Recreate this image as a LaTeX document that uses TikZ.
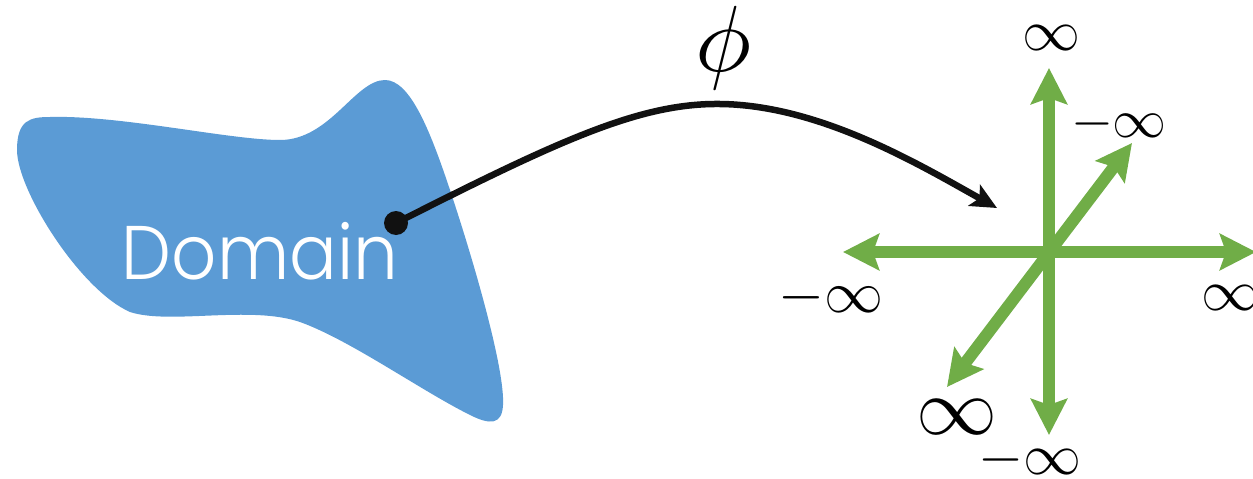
\documentclass[tikz,border=0pt]{standalone}
\usepackage{fontspec}
\usepackage{graphicx}
\newfontfamily\domfont{Poppins}[UprightFont={* Light}]
\usetikzlibrary{arrows.meta}
\definecolor{blobblue}{HTML}{5B9BD5}
\definecolor{axgreen}{HTML}{70AD47}
\definecolor{inkblack}{HTML}{111111}
\begin{document}
\begin{tikzpicture}[x=1pt,y=-1pt,
  lab/.style={inner sep=0pt, text=black},
  gaxis/.style={line width=12pt, draw=axgreen, {Stealth[length=36pt,width=36pt,inset=6pt]}-{Stealth[length=36pt,width=36pt,inset=6pt]}},
  maparrow/.style={line width=6.5pt, draw=inkblack, -{Stealth[length=26pt,width=24pt,inset=6pt]}},
  ]
\useasboundingbox (0,0) rectangle (1253,479);
% domain blob
\fill[blobblue] (50,117) .. controls (120,115) and (230,140) .. (280,140)
  .. controls (330,140) and (355,80) .. (385,80)
  .. controls (410,80) and (430,130) .. (450,190)
  .. controls (475,265) and (505,370) .. (503,405)
  .. controls (502,425) and (490,425) .. (470,415)
  .. controls (420,390) and (350,340) .. (300,322)
  .. controls (250,305) and (170,325) .. (130,312)
  .. controls (80,290) and (17,190) .. (17,150)
  .. controls (17,120) and (30,117) .. (50,117) -- cycle;
\node[text=white, font=\domfont\fontsize{76}{80}\selectfont, anchor=base, inner sep=0pt] (domain) at (260,279) {\scalebox{0.93}[1]{Domain}};
% axes
\coordinate (O) at (1049,252);
\coordinate (L) at (843,252);
\coordinate (R) at (1256,252);
\coordinate (U) at (1049,68);
\coordinate (D) at (1049,435);
\coordinate (UR) at (1132,143);
\coordinate (DL) at (947,387);
\draw[gaxis] (L) -- (R);
\draw[gaxis] (D) -- (U);
\draw[gaxis] (DL) -- (UR);
% map arrow
\node[circle, fill=inkblack, minimum size=24pt, inner sep=0pt] (dot) at (396,223) {};
\coordinate (tip) at (997,208);
\draw[maparrow] (dot.center) .. controls (560,140) and (640,103) .. (720,104)
  .. controls (820,105) and (920,165) .. (tip);
\node[lab] (phi) at (723,48) {\scalebox{9.4}{$\phi$}};
% labels
\node[lab] (lu) at (1051,38) {\scalebox{5.8}{$\infty$}};
\node[lab] (lur) at (1119,124) {\scalebox{5.4}{$-\infty$}};
\node[lab] (ll) at (831,298) {\scalebox{5.9}{$-\infty$}};
\node[lab] (lr) at (1230,298) {\scalebox{5.8}{$\infty$}};
\node[lab] (ldl) at (957,417) {\scalebox{8.1}{$\infty$}};
\node[lab] (ld) at (1030,460) {\scalebox{5.8}{$-\infty$}};
\end{tikzpicture}
\end{document}
